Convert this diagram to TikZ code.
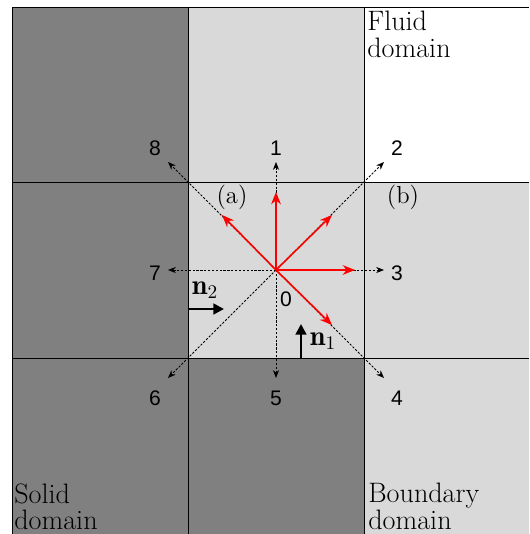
\documentclass[tikz,border=0pt]{standalone}
\usepackage{amsmath}
\usepackage{amssymb}
\usepackage{fontspec}
\usepackage{xcolor}
\usepackage{tikz}
\usetikzlibrary{arrows.meta}
\newfontfamily\digitfont{Liberation Sans}
\definecolor{solidgray}{RGB}{128,128,128}
\definecolor{cellgray}{RGB}{217,217,217}

\begin{document}
\begin{tikzpicture}[x=0.02cm, y=-0.02cm,
    latarrow/.style={dash pattern=on 1.3pt off 0.9pt, line width=0.45pt, -{Stealth[length=4.5pt,width=3.5pt]}},
    velarrow/.style={red, line width=0.9pt, -{Stealth[length=7pt,width=5.5pt]}},
    normarrow/.style={line width=1.6pt, -{Triangle[length=6pt,width=6pt]}},
    numlabel/.style={font=\digitfont\fontsize{12}{14}\selectfont},
    domlabel/.style={font=\fontsize{16}{15}\selectfont, align=left, anchor=north west, inner sep=0pt}]
    \useasboundingbox (0,0) rectangle (529,534);
    % cells
    \fill[white] (0,0) rectangle (529,534);
    \fill[solidgray] (12,7) rectangle (188,534);
    \fill[solidgray] (188,358) rectangle (364,534);
    \fill[cellgray] (188,7) rectangle (364,358);
    \fill[cellgray] (364,182) rectangle (529,534);
    \draw (12,534) -- (12,7) -- (529,7);
    \draw (188,7) -- (188,534);
    \draw (364,7) -- (364,534);
    \draw (12,182) -- (529,182);
    \draw (12,358) -- (529,358);
    % lattice directions
    \coordinate (o) at (276,270);
    \foreach \i/\dx/\dy in {1/0/-1,2/1/-1,3/1/0,4/1/1,5/0/1,6/-1/1,7/-1/0,8/-1/-1} {
        \coordinate (t\i) at (276+108*\dx, 270+108*\dy);
        \draw[latarrow] (o) -- (t\i);
        \node[numlabel] (l\i) at (276+121*\dx, 273+125*\dy) {\i};
    }
    \node[numlabel] (l0) at (286,299) {0};
    % velocities
    \foreach \i/\dx/\dy in {1/0/-78,2/56/-55,3/79/0,4/56/55,8/-54/-55} {
        \coordinate (r\i) at (276+\dx, 270+\dy);
        \draw[velarrow] (o) -- (r\i);
    }
    \node[font=\fontsize{14}{16}\selectfont] (pa) at (232,197) {(a)};
    \node[font=\fontsize{14}{16}\selectfont] (pb) at (403,197) {(b)};
    % normals
    \coordinate (n2s) at (188,309);
    \coordinate (n2e) at (224,309);
    \draw[normarrow] (n2s) -- (n2e);
    \node[font=\fontsize{16}{18}\selectfont] (n2) at (205,290) {$\mathbf{n}_2$};
    \coordinate (n1s) at (301,358);
    \coordinate (n1e) at (301,324);
    \draw[normarrow] (n1s) -- (n1e);
    \node[font=\fontsize{16}{18}\selectfont] (n1) at (323,341) {$\mathbf{n}_1$};
    % domains
    \node[domlabel] (fluid) at (367,11) {Fluid\\domain};
    \node[domlabel] (solid) at (14,483) {Solid\\domain};
    \node[domlabel] (bound) at (368,483) {Boundary\\domain};
\end{tikzpicture}
\end{document}
